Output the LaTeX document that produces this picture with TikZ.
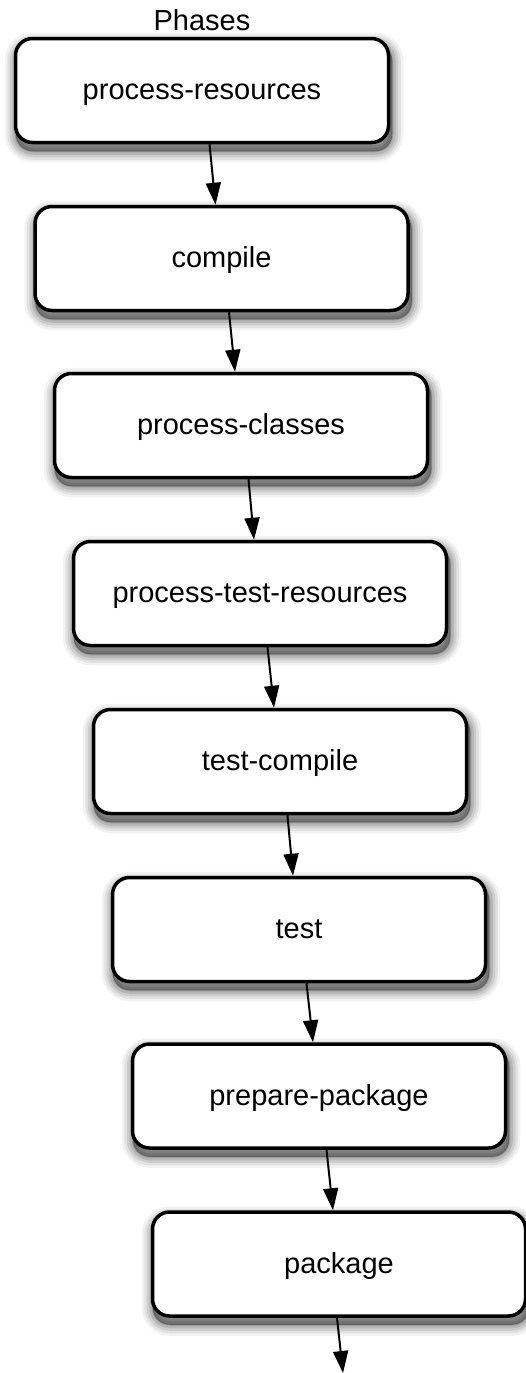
\documentclass[tikz,border=0pt]{standalone}
\usepackage{fontspec}
\setmainfont{Liberation Sans}
\usetikzlibrary{arrows.meta,calc,backgrounds}
\begin{document}
\begin{tikzpicture}[x=1pt,y=-1pt,
  phase/.style={draw=black, line width=3.5pt, rounded corners=17pt, fill=white,
    minimum width=373pt, minimum height=104pt, text height=18pt, text depth=0pt,
    font=\fontsize{29}{35}\selectfont},
  shadowlayer/.style={draw=black, fill=black, rounded corners=17pt},
  flow/.style={line width=2pt, -{Triangle[length=22pt,width=15pt]}},
  lbl/.style={font=\fontsize{29}{35}\selectfont, inner sep=0pt}]
\useasboundingbox (0,0) rectangle (526,1373);
\node[lbl] (title) at (202,20) {Phases};
\node[phase] (p1) at (202,90.5) {process-resources};
\node[phase] (p2) at (221.5,258.5) {compile};
\node[phase] (p3) at (241,425.5) {process-classes};
\node[phase] (p4) at (260,593.5) {process-test-resources};
\node[phase] (p5) at (280,761.5) {test-compile};
\node[phase] (p6) at (299,929.5) {test};
\node[phase] (p7) at (319,1096) {prepare-package};
\node[phase] (p8) at (339,1264) {package};
\coordinate (end) at (343,1373);
\begin{scope}[on background layer]
  \foreach \p in {p1,p2,p3,p4,p5,p6,p7,p8}
    \foreach \w/\o in {22/0.05,17/0.07,12/0.09,7/0.11,2/0.14}
      \draw[shadowlayer, line width=\w pt, opacity=\o]
        ($(\p.north west)+(2,7)$) rectangle ($(\p.south east)+(2,7)$);
\end{scope}
\foreach \a/\b in {p1/p2,p2/p3,p3/p4,p4/p5,p5/p6,p6/p7,p7/p8}
  \draw[flow] ($(\a.south)+(7.5,0)$) -- ($(\b.north)+(-6,0)$);
\draw[flow] ($(p8.south)+(-2,0)$) -- (end);
\end{tikzpicture}
\end{document}
